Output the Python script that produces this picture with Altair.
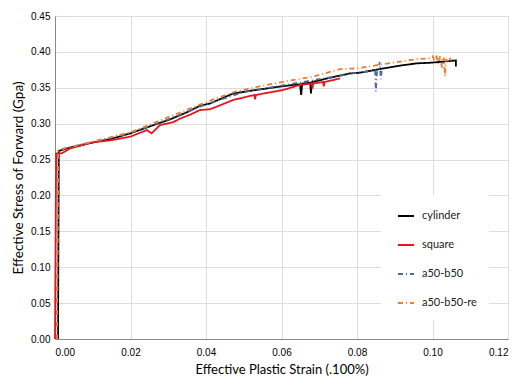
import altair as alt
import pandas as pd

# ---- data ----
cyl_x = [0.0008, 0.0010, 0.0022, 0.005, 0.010, 0.015, 0.020, 0.025, 0.0305, 0.035, 0.0384, 0.041,
         0.0472, 0.052, 0.056, 0.060, 0.0649, 0.0652, 0.0655, 0.0676, 0.0678, 0.0681, 0.0737,
         0.0781, 0.0808, 0.087, 0.0915, 0.0958, 0.0998, 0.1046, 0.1062, 0.1062]
cyl_y = [0.000, 0.262, 0.264, 0.268, 0.2737, 0.279, 0.2866, 0.296, 0.306, 0.316, 0.325, 0.328,
         0.342, 0.346, 0.349, 0.352, 0.355, 0.340, 0.356, 0.357, 0.342, 0.358, 0.365,
         0.370, 0.371, 0.377, 0.381, 0.384, 0.385, 0.3873, 0.388, 0.3795]

sq_x = [0.0000, 0.0003, 0.0018, 0.004, 0.010, 0.015, 0.020, 0.0243, 0.0256, 0.0278, 0.0313,
        0.0331, 0.036, 0.0384, 0.041, 0.0428, 0.0472, 0.0528, 0.053, 0.0532, 0.0605, 0.0649,
        0.068, 0.0682, 0.0684, 0.071, 0.0712, 0.0714, 0.0755]
sq_y = [0.000, 0.2587, 0.2587, 0.2656, 0.274, 0.277, 0.282, 0.291, 0.2866, 0.298, 0.302,
        0.307, 0.313, 0.319, 0.320, 0.3236, 0.333, 0.340, 0.334, 0.340, 0.347, 0.354,
        0.356, 0.349, 0.356, 0.358, 0.352, 0.358, 0.363]

ab_x = [0.0005, 0.0009, 0.0022, 0.010, 0.020, 0.030, 0.040, 0.050, 0.060, 0.070, 0.0747,
        0.080, 0.0848, 0.0850, 0.0853, 0.0858, 0.0860, 0.0863, 0.0866]
ab_y = [0.000, 0.262, 0.265, 0.274, 0.287, 0.306, 0.327, 0.344, 0.353, 0.362, 0.366,
        0.371, 0.374, 0.345, 0.374, 0.376, 0.386, 0.362, 0.376]

re_x = [0.0005, 0.0008, 0.0020, 0.010, 0.020, 0.030, 0.040, 0.048, 0.056, 0.062, 0.068,
        0.0755, 0.080, 0.087, 0.0958, 0.0990, 0.1000, 0.1005, 0.1010, 0.1015, 0.1020,
        0.1025, 0.1030, 0.1033, 0.1036, 0.1040, 0.1045, 0.1050]
re_y = [0.000, 0.262, 0.265, 0.275, 0.288, 0.309, 0.330, 0.345, 0.354, 0.360, 0.365,
        0.376, 0.377, 0.383, 0.390, 0.391, 0.394, 0.388, 0.396, 0.383, 0.394,
        0.378, 0.392, 0.366, 0.390, 0.385, 0.392, 0.388]

series_names = ["cylinder", "square", "a50-b50", "a50-b50-re"]
series_colors = ["#000000", "#e8141c", "#4a6b9c", "#ed7d31"]
series_dash = [[1, 0], [1, 0], [5, 3, 1, 3], [5, 3, 1, 3]]

rows = []
for name, xs, ys in zip(series_names, [cyl_x, sq_x, ab_x, re_x], [cyl_y, sq_y, ab_y, re_y]):
    for i, (xv, yv) in enumerate(zip(xs, ys)):
        rows.append({"series": name, "order": i, "strain": xv, "stress": yv})
df = pd.DataFrame(rows)

FONT = "Lato"
GRID = "#b4b4b4"

legend = alt.Legend(
    title=None, orient="none", legendX=326, legendY=179,
    symbolType="stroke", symbolSize=256, symbolStrokeWidth=2,
    fillColor="white", padding=12, symbolOffset=4, labelOffset=7,
    rowPadding=15, labelFont=FONT, labelFontSize=11, labelColor="#222222",
)

chart = alt.Chart(df).mark_line(strokeWidth=1.8).encode(
    x=alt.X("strain:Q",
            scale=alt.Scale(domain=[0, 0.12], nice=False),
            axis=alt.Axis(values=[0, 0.02, 0.04, 0.06, 0.08, 0.10, 0.12], format=".2f",
                          title="Effective Plastic Strain (.100%)", ticks=False,
                          labelPadding=8, titlePadding=6, titleFontSize=13,
                          titleFontWeight=400, titleFont=FONT)),
    y=alt.Y("stress:Q",
            scale=alt.Scale(domain=[0, 0.45], nice=False),
            axis=alt.Axis(values=[0, 0.05, 0.10, 0.15, 0.20, 0.25, 0.30, 0.35, 0.40, 0.45],
                          format=".2f", title="Effective Stress of Forward (Gpa)", ticks=False,
                          labelPadding=5, titlePadding=5, titleFontSize=13.5,
                          titleFontWeight=400, titleFont=FONT)),
    color=alt.Color("series:N", scale=alt.Scale(domain=series_names, range=series_colors),
                    legend=legend),
    strokeDash=alt.StrokeDash("series:N",
                              scale=alt.Scale(domain=series_names, range=series_dash),
                              legend=legend),
    order="order:Q",
    detail="series:N",
).properties(
    width=453, height=323,
    padding={"left": 47, "top": 8, "right": 13, "bottom": 38},
    autosize=alt.AutoSizeParams(type="none"),
).configure_view(
    stroke=GRID,
).configure_axis(
    gridColor=GRID, gridWidth=1, domainColor="#8c8c8c", domainWidth=1.3,
    labelFont=FONT, labelFontSize=10, labelColor="#595959",
    titleColor="#404040",
).configure(background="white")

chart.save("out.html", embed_options={"renderer": "svg", "actions": False})
